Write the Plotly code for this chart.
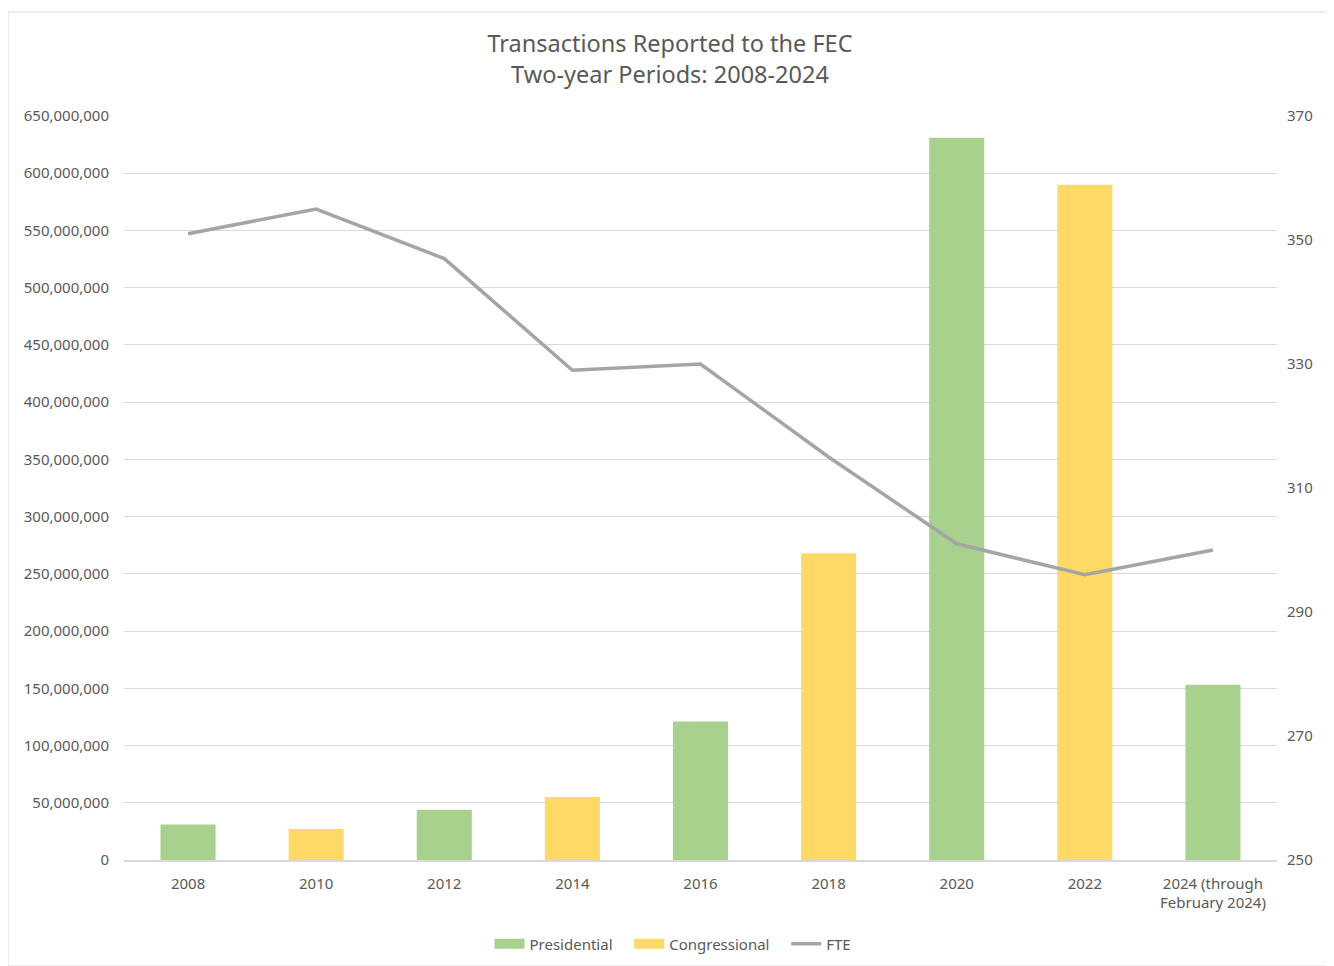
import plotly.graph_objects as go

categories = ["2008", "2010", "2012", "2014", "2016", "2018", "2020", "2022", "2024 (through<br>February 2024)"]
presidential_cats = ["2008", "2012", "2016", "2020", "2024 (through<br>February 2024)"]
presidential_vals = [31_000_000, 44_000_000, 121_000_000, 631_000_000, 153_000_000]
congressional_cats = ["2010", "2014", "2018", "2022"]
congressional_vals = [27_000_000, 55_000_000, 268_000_000, 590_000_000]
fte_vals = [351, 355, 347, 329, 330, 315, 301, 296, 300]
left_ticks = list(range(0, 650_000_001, 50_000_000))
right_ticks = list(range(250, 371, 20))

GREEN, YELLOW, GRAY = "#A9D18E", "#FFD966", "#A5A5A5"
W, H = 1334, 966
L, R, T, B = 116, 65, 108, 114
pw, ph = W - L - R, H - T - B
NB = "\u00a0"

fig = go.Figure()
fig.add_trace(go.Bar(x=presidential_cats, y=presidential_vals, name="Presidential",
                     marker=dict(color=GREEN, line=dict(width=0)), width=0.43,
                     showlegend=False, legendgroup="p"))
fig.add_trace(go.Bar(x=congressional_cats, y=congressional_vals, name="Congressional",
                     marker=dict(color=YELLOW, line=dict(width=0)), width=0.43,
                     showlegend=False, legendgroup="c"))
fig.add_trace(go.Scatter(x=categories, y=fte_vals, name="FTE", yaxis="y2", mode="lines",
                         line=dict(color=GRAY, width=3.5), showlegend=False, legendgroup="f"))
# legend entries styled like the reference (wide swatches)
fig.add_trace(go.Scatter(x=[None], y=[None], name="Presidential" + NB * 3, mode="lines",
                         line=dict(color=GREEN, width=10), legendgroup="p"))
fig.add_trace(go.Scatter(x=[None], y=[None], name="Congressional" + NB * 3, mode="lines",
                         line=dict(color=YELLOW, width=10), legendgroup="c"))
fig.add_trace(go.Scatter(x=[None], y=[None], name="FTE", mode="lines",
                         line=dict(color=GRAY, width=3.5), legendgroup="f"))

font_color = "#595959"
fig.update_layout(
    width=W, height=H,
    margin=dict(l=L, r=R, t=T, b=B),
    paper_bgcolor="white", plot_bgcolor="white",
    font=dict(family="Noto Sans, Open Sans, sans-serif", size=15, color=font_color),
    title=dict(text="Transactions Reported to the FEC<br>Two-year Periods: 2008-2024",
               x=(662 - L) / pw, xref="paper", xanchor="center", y=0.954, yanchor="middle",
               font=dict(size=23.5, color=font_color)),
    barmode="overlay",
    xaxis=dict(type="category", categoryorder="array", categoryarray=categories,
               showgrid=False, showline=True, linecolor="#D9D9D9", linewidth=1.5,
               ticks="", tickfont=dict(size=15, color=font_color), range=[-0.5, 8.5],
               ticklabelstandoff=9),
    yaxis=dict(range=[0, 650_000_000], tickvals=left_ticks,
               ticktext=[f"{v:,}" for v in left_ticks],
               showgrid=True, gridcolor="#D9D9D9", gridwidth=1.2, zeroline=False,
               ticks="", tickfont=dict(size=15, color=font_color), ticklabelstandoff=14),
    yaxis2=dict(range=[250, 370], tickvals=right_ticks, overlaying="y", side="right",
                showgrid=False, zeroline=False, ticks="",
                tickfont=dict(size=15, color=font_color), ticklabelstandoff=9),
    legend=dict(orientation="h", x=(665 - L) / pw, xanchor="center", y=-84 / ph, yanchor="middle",
                font=dict(size=15, color=font_color), traceorder="normal",
                itemwidth=30, tracegroupgap=0),
    shapes=[dict(type="rect", xref="paper", yref="paper",
                 x0=(0 - L) / pw, x1=(1320 - L) / pw,
                 y0=(H - B - 958) / ph, y1=(H - B - 4) / ph,
                 line=dict(color="#D9D9D9", width=1), fillcolor="rgba(0,0,0,0)", layer="below")],
)

fig.write_html("out.html")
